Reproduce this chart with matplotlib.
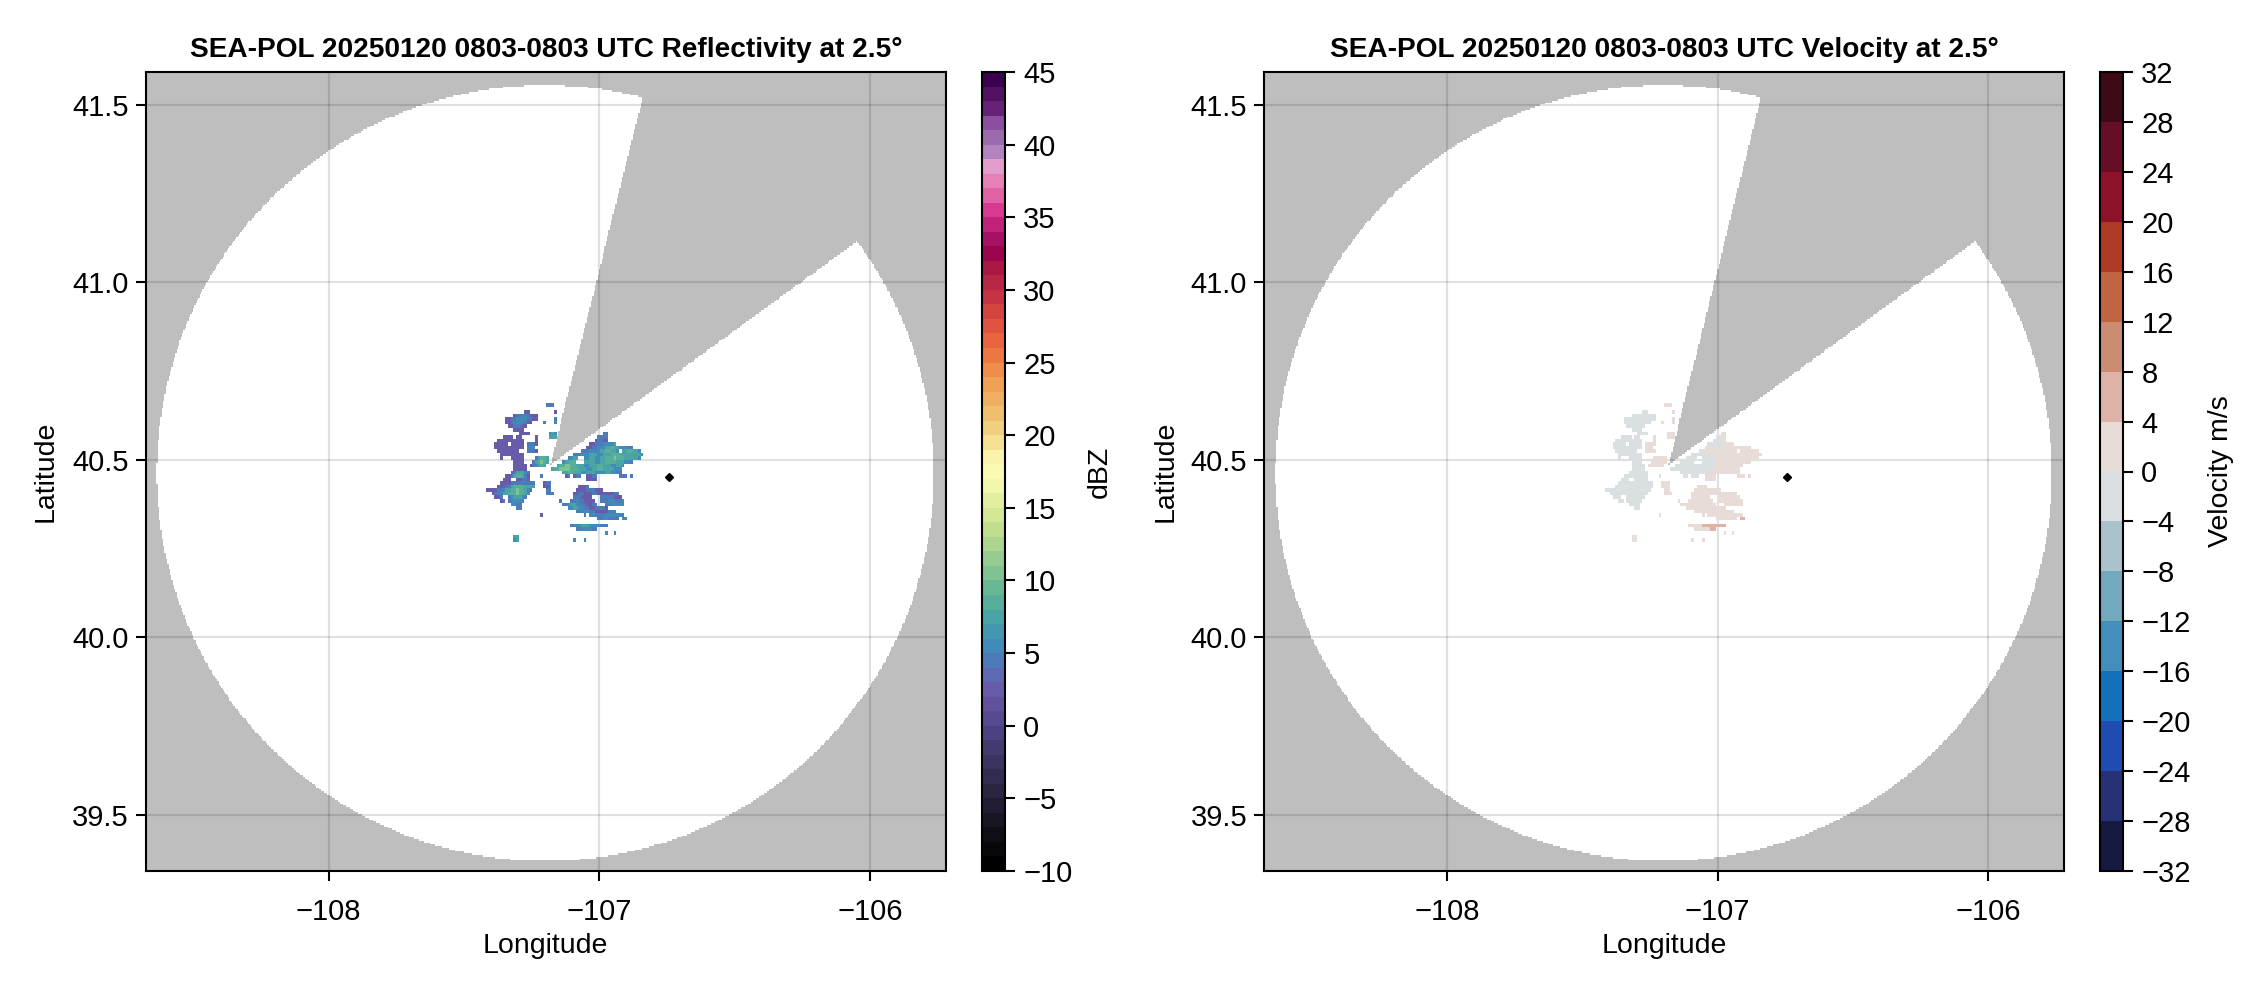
import numpy as np
import matplotlib
matplotlib.use('Agg')
import matplotlib.pyplot as plt
from matplotlib.colors import LinearSegmentedColormap, ListedColormap, BoundaryNorm

plt.rcParams['font.family'] = ['Liberation Sans', 'DejaVu Sans']
plt.rcParams['font.size'] = 20.5

FIG_W, FIG_H = 2262, 990

# radar site and coverage
radar_lon, radar_lat = -107.182, 40.486
rim_lon, rim_lat = -107.2, 40.463
rim_a, rim_b = 1.435, 1.093
blocked_slopes = (0.33, 1.80)  # dlon/dlat of the two edges of the blocked sector
site_lon, site_lat = -106.744, 40.451

lon_ticks = [-108, -107, -106]
lat_ticks = [39.5, 40.0, 40.5, 41.0, 41.5]
dbz_ticks = [-10, -5, 0, 5, 10, 15, 20, 25, 30, 35, 40, 45]
vel_ticks = list(range(-32, 33, 4))

# reflectivity echoes, one entry per grid row: (first column, cell codes)
dbz_codes = {'1': 0.5, '2': 2.5, '3': 4.0, '4': 5.5, '5': 7.0, '6': 8.5, '7': 10.0}
echo_rows = [
    [(22, "333")],
    [],
    [(14, "22"), (25, "2")],
    [(10, "233443222")],
    [(7, "223344443322"), (25, "3")],
    [(7, "2234444322"), (21, "3"), (25, "4")],
    [(8, "2233322")],
    [(10, "2222")],
    [(12, "2222"), (23, "454"), (43, "33")],
    [(6, "2222"), (11, "22"), (18, "2"), (23, "555"), (41, "3333")],
    [(4, "2222222222"), (18, "2"), (40, "23322")],
    [(3, "22222"), (9, "22222"), (15, "333"), (18, "2"), (38, "2233344445")],
    [(3, "22222222222"), (15, "344"), (37, "22334445565544433")],
    [(4, "22222222"), (15, "3332"), (35, "33344345566554"), (50, "5566554")],
    [(5, "222222222"), (32, "33344455544555666655555554")],
    [(5, "2"), (9, "22222"), (18, "35665"), (30, "3455"), (36, "445544556667666555554")],
    [(10, "2222"), (17, "356765"), (28, "45566"), (36, "555544556666555443")],
    [(10, "22222"), (16, "234565"), (26, "5667766555445556655544554")],
    [(10, "22222"), (24, "56677776665554455665555444")],
    [(9, "2355543"), (28, "5566555445554444554433")],
    [(7, "223566532"), (20, "3"), (29, "23"), (32, "2"), (33, "33"), (37, "2233"), (49, "333"), (53, "3")],
    [(6, "222"), (11, "22332"), (37, "2222")],
    [(5, "2222333333333"), (21, "233")],
    [(4, "22233566665555"), (21, "223"), (34, "2223")],
    [(0, "22"), (2, "223345566766543"), (22, "33"), (33, "2222333222")],
    [(2, "23345566676654"), (22, "333"), (32, "22332223322222233")],
    [(3, "223"), (8, "3455543"), (32, "3332222"), (42, "33333222")],
    [(5, "23"), (8, "344444"), (27, "3"), (31, "334332222"), (42, "333443334")],
    [(9, "4433"), (28, "3345544332233"), (44, "3344444")],
    [(11, "33"), (30, "445544332233332")],
    [(33, "333443322222333")],
    [(20, "2"), (36, "3"), (38, "4433334444443")],
    [(41, "33443333"), (50, "44")],
    [],
    [(31, "34445554444333")],
    [(33, "33444433")],
    [(44, "4"), (47, "4")],
    [(10, "55")],
    [(10, "45"), (32, "4"), (36, "4")],
]
echo_west = -107.418
echo_north = 40.660
cell = 0.01
mask_cell = 0.005

# velocity over the echo cells: background value, then patches
# (first row, last row, first column, last column, m/s)
vel_background = 2.0
vel_patches = [
    (2, 6, 0, 18, -2.0),
    (7, 10, 0, 15, -2.0),
    (11, 14, 0, 14, -2.0),
    (15, 21, 0, 15, -2.0),
    (22, 29, 0, 17, -2.0),
    (9, 12, 38, 42, -2.0),
    (13, 13, 34, 35, -2.0),
    (14, 14, 32, 37, -2.0),
    (15, 15, 30, 39, -2.0),
    (16, 16, 28, 40, -2.0),
    (17, 17, 26, 40, -2.0),
    (18, 18, 24, 39, -2.0),
    (19, 19, 28, 38, -2.0),
    (20, 20, 29, 34, -2.0),
    (34, 34, 36, 44, 6.0),
    (35, 35, 39, 41, 6.0),
    (32, 32, 50, 51, 6.0),
]

# colours
dbz_anchor_vals = [-10, -8, -5, -2, 0, 2, 3.5, 5, 7, 9, 10, 12, 14, 16.5, 18, 19, 20, 22, 24,
                   26, 28, 30, 32, 33, 34, 35, 36, 37, 38, 39, 40, 41, 42, 43, 44, 45]
dbz_anchor_cols = ['#000000', '#0f0e14', '#2a2440', '#423a6e', '#55488f', '#6a59a8', '#5b6cb4',
                   '#4088bd', '#45a1a8', '#62b496', '#77c093', '#a3d190', '#cde38f', '#f2f7ac',
                   '#fefbb7', '#f8eaa0', '#f0d986', '#f0b868', '#ef9c50', '#ec6f3e', '#dc4f3f',
                   '#c03043', '#a81544', '#98004f', '#aa1668', '#c6267f', '#d93f95', '#e269a9',
                   '#e684b9', '#e3a0d0', '#ac80bd', '#9b69ad', '#8b4ca0', '#652078', '#521060',
                   '#3c0050']
vel_colors = ['#161a40', '#273176', '#204bb0', '#1570ba', '#448ebb', '#74a8bd', '#a9c2cc', '#dadfe2',
              '#e8dcd8', '#deb2a6', '#cc8c72', '#c06444', '#ae3a24', '#8e1229', '#660e27', '#3e0a16']


def px_axes(fig, left, top, right, bottom):
    return fig.add_axes([left / FIG_W, 1 - bottom / FIG_H, (right - left) / FIG_W, (bottom - top) / FIG_H])


def missing_mask(lon, lat):
    outside = ((lon - rim_lon) / rim_a) ** 2 + ((lat - rim_lat) / rim_b) ** 2 > 1
    dlon = lon - radar_lon
    dlat = lat - radar_lat
    blocked = (dlat > 0) & (dlon > blocked_slopes[0] * dlat) & (dlon < blocked_slopes[1] * dlat)
    return outside | blocked


def echo_fields():
    nrows = len(echo_rows)
    ncols = 60
    dbz = np.full((nrows, ncols), np.nan)
    for r, runs in enumerate(echo_rows):
        for start, codes in runs:
            for i, c in enumerate(codes):
                dbz[r, start + i] = dbz_codes[c]
    vel = np.where(np.isnan(dbz), np.nan, vel_background)
    for r0, r1, c0, c1, v in vel_patches:
        part = vel[r0:r1 + 1, c0:c1 + 1]
        part[~np.isnan(part)] = v
    lon_edges = echo_west + cell * np.arange(ncols + 1)
    lat_edges = echo_north - cell * np.arange(nrows + 1)
    return lon_edges, lat_edges, dbz, vel


def plot_panel(ax, field, cmap, norm, title, ylabel_x):
    xlim = (-108.677, -105.72)
    ylim = (39.342, 41.593)
    lon_e = np.arange(xlim[0], xlim[1] + mask_cell, mask_cell)
    lat_e = np.arange(ylim[0], ylim[1] + mask_cell, mask_cell)
    lon_c, lat_c = np.meshgrid(lon_e[:-1] + mask_cell / 2, lat_e[:-1] + mask_cell / 2)
    missing = np.ma.masked_where(~missing_mask(lon_c, lat_c), np.ones_like(lon_c))
    ax.pcolormesh(lon_e, lat_e, missing, cmap=ListedColormap(['#bebebe']), zorder=1, rasterized=True)
    ax.grid(True, color='black', alpha=0.12, linewidth=1.6, zorder=2)
    ax.set_axisbelow(False)
    for line in ax.get_xgridlines() + ax.get_ygridlines():
        line.set_zorder(2)

    lon_edges, lat_edges, values = field
    mesh = ax.pcolormesh(lon_edges, lat_edges, np.ma.masked_invalid(values), cmap=cmap, norm=norm, zorder=3)
    ax.plot([site_lon], [site_lat], marker='D', color='black', markersize=4, linestyle='none', zorder=4)

    ax.set_xlim(xlim)
    ax.set_ylim(ylim)
    ax.set_xticks(lon_ticks)
    ax.set_yticks(lat_ticks)
    ax.set_xlabel('Longitude')
    ax.set_ylabel('Latitude')
    ax.xaxis.set_label_coords(0.5, -0.0776)
    ax.yaxis.set_label_coords(ylabel_x, 0.5)
    ax.tick_params(length=7.2, width=1.5, labelsize=21)
    ax.tick_params(axis='y', pad=5)
    ax.tick_params(axis='x', pad=12)
    for s in ax.spines.values():
        s.set_linewidth(1.5)
    ax.set_title(title, fontweight='bold', fontsize=20.2, pad=10.5)
    return mesh


def plot_cbar(fig, mesh, cax, ticks, label, label_x):
    cb = fig.colorbar(mesh, cax=cax, ticks=ticks, spacing='proportional', drawedges=False)
    cb.ax.minorticks_off()
    cb.ax.tick_params(length=7.2, width=1.5, pad=6, labelsize=21)
    cb.outline.set_linewidth(1.5)
    cb.set_label(label, fontsize=20.5)
    cb.ax.yaxis.set_label_coords(label_x, 0.5)


dbz_pos = [(v + 10) / 55 for v in dbz_anchor_vals]
dbz_cmap = LinearSegmentedColormap.from_list('refl', list(zip(dbz_pos, dbz_anchor_cols)), N=55)
dbz_norm = BoundaryNorm(np.arange(-10, 46, 1), dbz_cmap.N)
vel_cmap = ListedColormap(vel_colors)
vel_norm = BoundaryNorm(np.arange(-32, 33, 4), vel_cmap.N)

lon_edges, lat_edges, dbz, vel = echo_fields()

fig = plt.figure(figsize=(FIG_W / 100, FIG_H / 100), dpi=100)
ax1 = px_axes(fig, 145.5, 72, 946, 871)
ax2 = px_axes(fig, 1264, 72, 2064, 871)
cax1 = px_axes(fig, 982, 72, 1005, 871)
cax2 = px_axes(fig, 2100, 72, 2123, 871)

m1 = plot_panel(ax1, (lon_edges, lat_edges, dbz), dbz_cmap, dbz_norm,
                'SEA-POL 20250120 0803-0803 UTC Reflectivity at 2.5°', -0.109)
m2 = plot_panel(ax2, (lon_edges, lat_edges, vel), vel_cmap, vel_norm,
                'SEA-POL 20250120 0803-0803 UTC Velocity at 2.5°', -0.107)
plot_cbar(fig, m1, cax1, dbz_ticks, 'dBZ', 4.57)
plot_cbar(fig, m2, cax2, vel_ticks, 'Velocity m/s', 4.7)

fig.savefig('out.png', dpi=100)
